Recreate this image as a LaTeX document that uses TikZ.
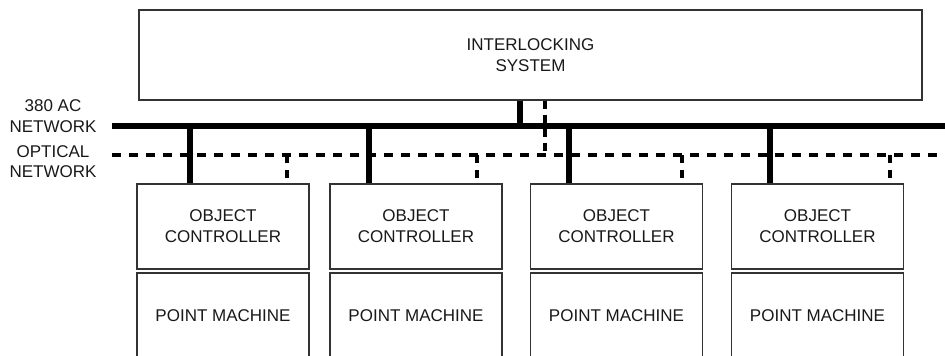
\documentclass[tikz,border=0pt]{standalone}
\usepackage{fontspec}
\setmainfont{Liberation Sans}
\begin{document}
\begin{tikzpicture}[x=1pt,y=-1pt,
  lbl/.style={font=\fontsize{17}{21.5}\selectfont, text=black!90, align=center, inner sep=0pt},
  unit/.style={draw=black!80, line width=1.5pt, fill=white, minimum width=172pt,
               font=\fontsize{17}{21}\selectfont, text=black!90, align=center, inner sep=0pt},
  acline/.style={line width=6.5pt, black},
  tap/.style={line width=6pt, black},
  fibre/.style={line width=3.2pt, black, dash pattern=on 9pt off 8pt},
  drop/.style={line width=3.2pt, black, dash pattern=on 8pt off 7pt}]
\useasboundingbox (0,0) rectangle (945,356);
\clip (0,0) rectangle (945,356);

% interlocking system
\node[unit, minimum width=783pt, minimum height=90pt] (ils) at (530.5,55)
  {INTERLOCKING\\SYSTEM};

% network labels
\node[lbl] (acl) at (53,116) {380 AC\\NETWORK};
\node[lbl, font=\fontsize{17}{20}\selectfont] (opl) at (53,162) {OPTICAL\\NETWORK};

% object controllers and point machines
\foreach \i/\x in {1/223, 2/416, 3/616.5, 4/817.5}{
  \node[unit, minimum height=85pt] (oc\i) at (\x,226.5) {OBJECT\\CONTROLLER};
  \node[unit, minimum height=86pt] (pm\i) at (\x,316) {POINT MACHINE};
}

% bus end points
\coordinate (acL) at (112,126);
\coordinate (acR) at (946,126);
\coordinate (opL) at (112,155);
\coordinate (opR) at (946,155);

% tap points on the buses
\coordinate (ia) at (520,126);
\coordinate (io) at (545,155);
\foreach \i/\a/\o in {1/190/287, 2/369/477, 3/569/682, 4/770/890}{
  \coordinate (a\i) at (\a,126);
  \coordinate (o\i) at (\o,155);
}

% interlocking links
\draw[tap] (ils.south -| ia) -- (ia);
\draw[drop, dash pattern=on 8pt off 6pt] (ils.south -| io) -- (io);

% buses
\draw[acline] (acL) -- (acR);
\draw[fibre] (opL) -- (opR);

% controller links
\foreach \i in {1,2,3,4}{
  \draw[tap] (a\i) -- (a\i |- oc\i.north);
  \draw[drop] (o\i) -- (o\i |- oc\i.north);
}
\end{tikzpicture}
\end{document}
